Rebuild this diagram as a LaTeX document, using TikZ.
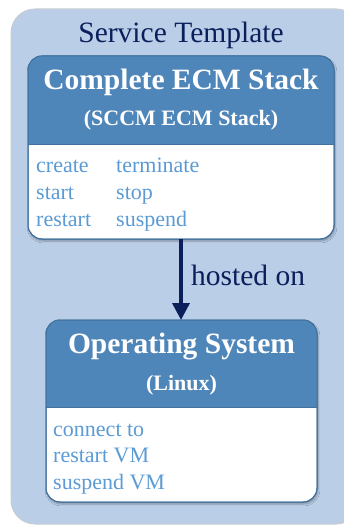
\documentclass[tikz,border=0pt]{standalone}
\usepackage{fontspec}
\setmainfont{Liberation Serif}
\usetikzlibrary{arrows.meta,shadows.blur}
\definecolor{outerfill}{HTML}{BACEE7}
\definecolor{outerline}{HTML}{C9CCD2}
\definecolor{headfill}{HTML}{4F86BA}
\definecolor{boxline}{HTML}{41719C}
\definecolor{itemblue}{HTML}{5B9BD5}
\definecolor{navy}{HTML}{0B1F5C}
\tikzset{
  x=1pt, y=-1pt,
  container/.style={draw=outerline, line width=1pt, fill=outerfill, rounded corners=24pt},
  cardbody/.style={draw=boxline, line width=1pt, fill=white, rounded corners=14pt,
    blur shadow={shadow xshift=1pt, shadow yshift=-2pt, shadow blur steps=6, shadow opacity=30}},
  bigtext/.style={font=\fontsize{29.5}{32}\selectfont},
  headtitle/.style={text=white, font=\fontsize{29.5}{32}\selectfont\bfseries},
  headsub/.style={text=white, font=\fontsize{22}{24}\selectfont\bfseries},
  item/.style={text=itemblue, font=\fontsize{22}{24}\selectfont, anchor=base west, inner sep=0pt},
}
\begin{document}
\begin{tikzpicture}
\useasboundingbox (0,0) rectangle (343,527);
% service template container
\draw[container] (11,9) rectangle (360,524);
\node[bigtext, text=navy] (tpl) at (181,35) {Service Template};

% upper node template
\draw[cardbody] (28,56) rectangle (334,239);
\begin{scope}
  \clip[rounded corners=14pt] (28,56) rectangle (334,239);
  \fill[headfill] (28,56) rectangle (334,144);
\end{scope}
\draw[boxline, line width=1pt, rounded corners=14pt] (28,56) rectangle (334,239);
\draw[boxline, line width=0.8pt] (28,144) -- (334,144);
\node[headtitle] (ecm) at (181,82) {Complete ECM Stack};
\node[headsub] (ecmsub) at (181,120) {(SCCM ECM Stack)};
\node[item] (create) at (36,172) {create};
\node[item] (start) at (36,199) {start};
\node[item] (restart) at (36,226) {restart};
\node[item] (terminate) at (116,172) {terminate};
\node[item] (stop) at (116,199) {stop};
\node[item] (suspend) at (116,226) {suspend};
\coordinate (upbottom) at (181,239);

% lower node template
\draw[cardbody] (46,320) rectangle (317,502);
\begin{scope}
  \clip[rounded corners=14pt] (46,320) rectangle (317,502);
  \fill[headfill] (46,320) rectangle (317,407);
\end{scope}
\draw[boxline, line width=1pt, rounded corners=14pt] (46,320) rectangle (317,502);
\draw[boxline, line width=0.8pt] (46,407) -- (317,407);
\node[headtitle] (os) at (181.5,347) {Operating System};
\node[headsub] (ossub) at (181.5,385) {(Linux)};
\node[item] (connect) at (53,436) {connect to};
\node[item] (restartvm) at (53,462) {restart VM};
\node[item] (suspendvm) at (53,489) {suspend VM};
\coordinate (lowtop) at (181,320);

% hosted-on relationship
\draw[navy, line width=3.5pt, -{Triangle[length=17pt,width=17pt]}] (upbottom) -- (lowtop);
\node[bigtext, text=navy, anchor=west, inner sep=0pt] (hosted) at (191,275) {hosted on};
\end{tikzpicture}
\end{document}
